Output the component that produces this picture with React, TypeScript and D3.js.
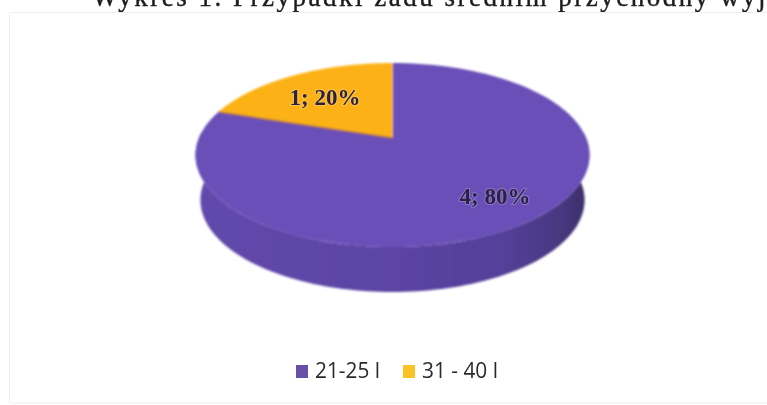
import React from "react";
import * as d3 from "d3";

const categories = ["21-25 l", "31 - 40 l"];
const seriesValues = [4, 1];
const percentLabels = ["80%", "20%"];
const colors = ["#6a4fb8", "#fcb216"];
const legendColors = ["#6750a8", "#fbc326"];
const titleText = "Wykres 1. Przypadki zadu średnim przychodny wyj";

const W = 767;
const H = 405;
const cx = 392.5;
const cy = 155;
const k = -0.185;
const A = 92;
const B = -17;
const C = 193.6;
const depth = 45;

// projective mapping of a pie angle (0 = up, clockwise) on to the tilted disc
const project = (a: number, r = 1, dy = 0, sx = 1): [number, number] => {
  const u = r * Math.sin(a);
  const v = -r * Math.cos(a);
  const d = 1 + k * v;
  return [cx + (sx * C * u) / d, cy + dy + (A * v + B) / d];
};

const sample = (a0: number, a1: number, dy = 0, sx = 1) =>
  d3.range(0, 121).map((i) => project(a0 + ((a1 - a0) * i) / 120, 1, dy, sx));

const line = d3.line();

const labelPlace: [number, number][] = [
  [2.484, 0.769],
  [5.6, 0.6],
];
const legendX = [296, 403];
const legendTextX = [315, 422];
const legendTextW = [65, 76];

export default function App() {
  const pie = d3
    .pie<number>()
    .sort(null)
    .startAngle(0)
    .endAngle(2 * Math.PI)(seriesValues);
  const apex = project(0, 0);

  const frontStart = Math.PI / 2 - 0.06;
  const frontEnd = (3 * Math.PI) / 2 + 0.06;
  const rim = sample(frontStart, frontEnd);
  const base = sample(frontEnd, frontStart, depth, 0.975);
  const sidePath = line([...rim, ...base]) + "Z";
  const seam = project(pie[1].startAngle);

  return (
    <svg
      width={W}
      height={H}
      viewBox={`0 0 ${W} ${H}`}
      style={{ position: "absolute", left: 0, top: 0, background: "#fff" }}
    >
      <defs>
        <linearGradient id="side" x1="0" x2="1" y1="0" y2="0">
          <stop offset="0" stopColor="#6249ab" />
          <stop offset="0.5" stopColor="#5c44a4" />
          <stop offset="0.78" stopColor="#54409a" />
          <stop offset="0.93" stopColor="#47377f" />
          <stop offset="1" stopColor="#3a2d68" />
        </linearGradient>
        <filter id="soft" x="-5%" y="-5%" width="110%" height="110%">
          <feGaussianBlur stdDeviation="1" />
        </filter>
        <filter id="softText" x="-10%" y="-20%" width="120%" height="140%">
          <feGaussianBlur stdDeviation="0.5" />
        </filter>
      </defs>

      <text
        x={92}
        y={6}
        fontFamily="'Liberation Serif', serif"
        fontSize={27}
        letterSpacing={2.5}
        fill="#1c1c1c"
        stroke="#1c1c1c"
        strokeWidth={0.4}
        filter="url(#softText)"
      >
        {titleText}
      </text>
      <path d="M9.5 403V12.5H767M9.5 403H767" fill="none" stroke="#efefef" strokeWidth={1} />

      <g filter="url(#soft)">
        <path d={sidePath} fill="url(#side)" />
        {pie.map((p, i) => {
          const pts = sample(p.startAngle, p.endAngle);
          return (
            <path
              key={categories[i]}
              d={line([apex, ...pts]) + "Z"}
              fill={colors[i]}
            />
          );
        })}
        <path d={line([apex, seam]) ?? ""} stroke="#a8702c" strokeWidth={1.5} fill="none" />
      </g>

      {pie.map((p, i) => {
        const pos = project(labelPlace[i][0], labelPlace[i][1]);
        return (
          <text
            key={categories[i]}
            x={pos[0]}
            y={pos[1]}
            textAnchor="middle"
            dominantBaseline="middle"
            fontFamily="'Liberation Serif', serif"
            fontWeight="bold"
            fontSize={23}
            fill="#2a2440"
            stroke="#ffffff"
            strokeOpacity={0.22}
            strokeWidth={2}
            paintOrder="stroke"
            filter="url(#softText)"
          >
            {`${seriesValues[i]}; ${percentLabels[i]}`}
          </text>
        );
      })}

      <g filter="url(#softText)">
        {categories.map((c, i) => (
          <g key={c}>
            <rect x={legendX[i]} y={365} width={12} height={13} fill={legendColors[i]} />
            <text
              x={legendTextX[i]}
              y={378}
              fontFamily="'Open Sans', 'Noto Sans', sans-serif"
              fontSize={21}
              textLength={legendTextW[i]}
              lengthAdjust="spacingAndGlyphs"
              fill="#2b2b2b"
            >
              {c}
            </text>
          </g>
        ))}
      </g>
    </svg>
  );
}
